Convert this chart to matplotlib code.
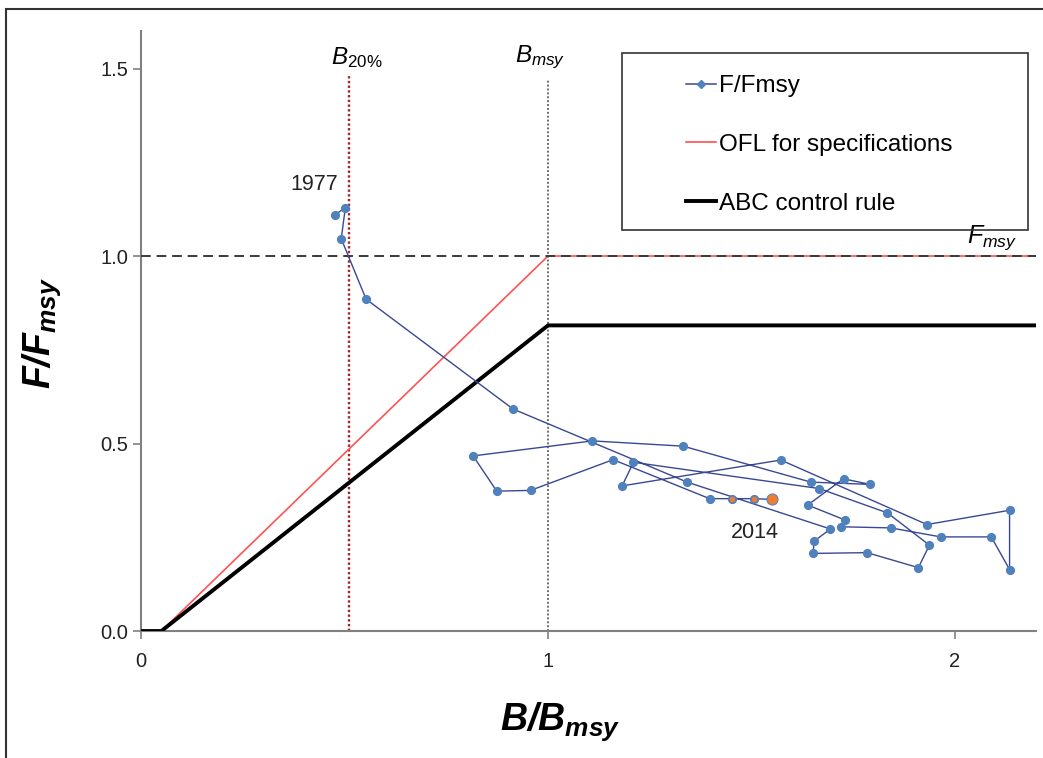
import matplotlib
matplotlib.use("Agg")
import matplotlib.pyplot as plt
from matplotlib.lines import Line2D
from matplotlib.patches import Rectangle

plt.rcParams['font.family'] = ['Liberation Sans', 'DejaVu Sans']
plt.rcParams['mathtext.fontset'] = 'custom'
plt.rcParams['mathtext.rm'] = 'Liberation Sans'
plt.rcParams['mathtext.it'] = 'Liberation Sans:italic'
plt.rcParams['mathtext.bf'] = 'Liberation Sans:bold:italic'

# stock trajectory, plotting order (1977 first, 2014 last)
b_bmsy = [0.477, 0.502, 0.492, 0.553, 0.914, 1.342, 1.694, 1.654, 1.651, 1.784,
          1.910, 1.937, 1.834, 1.666, 1.210, 1.182, 1.572, 1.931, 2.134, 2.134,
          2.089, 1.965, 1.842, 1.721, 1.730, 1.638, 1.726, 1.791, 1.646, 1.332,
          1.109, 0.816, 0.874, 0.957, 1.160, 1.397, 1.452, 1.505, 1.551]
f_fmsy = [1.110, 1.129, 1.046, 0.885, 0.592, 0.397, 0.272, 0.240, 0.207, 0.209,
          0.169, 0.229, 0.315, 0.380, 0.450, 0.387, 0.456, 0.284, 0.322, 0.164,
          0.251, 0.251, 0.275, 0.278, 0.296, 0.336, 0.406, 0.391, 0.397, 0.493,
          0.507, 0.467, 0.373, 0.375, 0.457, 0.353, 0.353, 0.353, 0.351]

# harvest control rules
ofl_b = [0, 0.05, 1.0, 2.2]
ofl_f = [0, 0, 1.0, 1.0]
abc_b = [0, 0.05, 1.0, 2.2]
abc_f = [0, 0, 0.815, 0.815]

b20 = 0.51
bmsy = 1.0
fmsy = 1.0

fig = plt.figure(figsize=(10.43, 7.58), dpi=100)
ax = fig.add_axes([0.1352, 0.1675, 0.8585, 0.7916])

# reference lines
ax.plot([b20, b20], [0, 1.48], color='#a3262a', lw=1.7, ls=(0, (1, 1)), zorder=2)
ax.plot([bmsy, bmsy], [0, 1.47], color='#6e6e6e', lw=1.4, ls=(0, (1, 1)), zorder=2)

ax.plot(ofl_b, ofl_f, color='#ff5252', lw=1.2, zorder=3)
ax.axhline(fmsy, color='#3a3a3a', lw=1.4, ls=(0, (5, 3)), zorder=4)
ax.plot(abc_b, abc_f, color='black', lw=2.8, zorder=3, solid_capstyle='butt')

ax.plot(b_bmsy, f_fmsy, color='#3a4894', lw=1.0, marker='o', ms=5.6,
        mfc='#4f81bd', mec='#4f81bd', zorder=5)
ax.plot(b_bmsy[-3:-1], f_fmsy[-3:-1], ls='none', marker='o', ms=3.0,
        mfc='#ed7d31', mec='#ed7d31', zorder=6)
ax.plot(b_bmsy[-1:], f_fmsy[-1:], ls='none', marker='o', ms=8,
        mfc='#ed7d31', mec='#5b86c0', mew=0.8, zorder=6)

ax.text(0.425, 1.19, '1977', fontsize=15.5, ha='center', va='center', color='#222222')
ax.text(1.509, 0.264, '2014', fontsize=15.5, ha='center', va='center', color='#222222')
ax.text(0.53, 1.53, r'$\mathit{B_{20\%}}$', fontsize=17.5, ha='center', va='center')
ax.text(0.98, 1.53, r'$\mathit{B_{msy}}$', fontsize=17.5, ha='center', va='center')
ax.text(2.09, 1.05, r'$\mathit{F_{msy}}$', fontsize=18, ha='center', va='center')

ax.set_xlim(0, 2.2)
ax.set_ylim(0, 1.6)
ax.set_xticks([0, 1, 2])
ax.set_xticklabels(['0', '1', '2'])
ax.set_yticks([0, 0.5, 1.0, 1.5])
ax.set_yticklabels(['0.0', '0.5', '1.0', '1.5'])
for side in ['top', 'right']:
    ax.spines[side].set_visible(False)
for side in ['left', 'bottom']:
    ax.spines[side].set_color('#808080')
    ax.spines[side].set_linewidth(1.5)
ax.tick_params(axis='both', direction='out', length=6, width=1.2, color='#808080',
               labelsize=14.5, labelcolor='#222222')
ax.tick_params(axis='x', pad=9)
ax.tick_params(axis='y', pad=3)

fig.text(560 / 1043, 1 - 722 / 758, r'$\mathbf{B/B_{msy}}$', fontsize=27,
         ha='center', va='center')
fig.text(42 / 1043, 1 - 333 / 758, r'$\mathbf{F/F_{msy}}$', fontsize=27,
         ha='center', va='center', rotation=90)

# legend with its own frame
handles = [
    Line2D([], [], color='#3a4894', lw=1.1, marker='D', ms=4, mfc='#4f81bd', mec='#4f81bd'),
    Line2D([], [], color='#ff5252', lw=1.2),
    Line2D([], [], color='black', lw=2.8),
]
labels = ['F/Fmsy', 'OFL for specifications', 'ABC control rule']
fig.patches.append(Rectangle((0.596, 0.6966), 0.3898, 0.2331, transform=fig.transFigure,
                             fill=False, edgecolor='#333333', lw=1.2))
fig.legend(handles, labels, loc='upper left', bbox_to_anchor=(686 / 1043, 1 - 75 / 758),
           frameon=False, fontsize=17.5, handlelength=1.25, handletextpad=0.1,
           labelspacing=1.52, borderpad=0, borderaxespad=0)

# outer frame of the figure
fig.patches.append(Rectangle((6 / 1043, -0.05), 1.1, 1.05 - 9 / 758, transform=fig.transFigure,
                             fill=False, edgecolor='#333333', lw=1.5))

fig.savefig('out.png', dpi=100)
